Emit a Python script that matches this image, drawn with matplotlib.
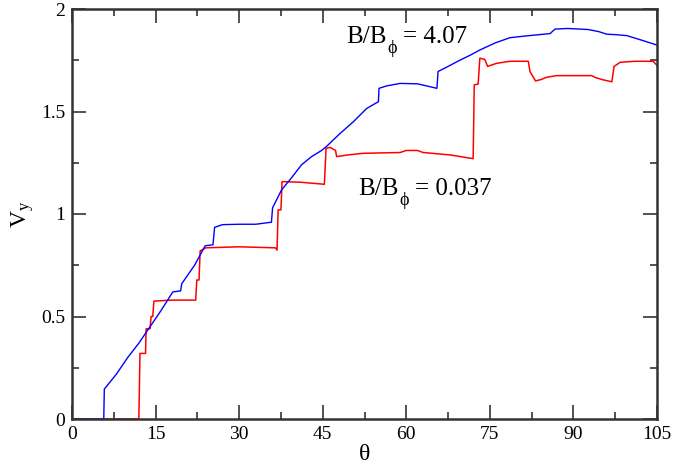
import numpy as np
import matplotlib
matplotlib.use('Agg')
import matplotlib.pyplot as plt
from matplotlib.ticker import MultipleLocator
from matplotlib.transforms import offset_copy

# blue curve, B/Bphi = 4.07
theta_hi = [0, 5.7, 5.8, 8, 10, 12, 14, 16, 18.1, 19.5, 19.7, 22, 23.9, 25.3, 25.6, 27, 30, 33, 35.8,
            36.0, 37.6, 39.5, 41.2, 43, 44.8, 45.7, 48, 50.5, 52.9, 55.0, 55.1, 56.5, 58.9, 62, 65.5,
            65.7, 67.5, 69.6, 71.5, 73.2, 76, 78.6, 82, 85.8, 86.7, 89, 92.6, 94.5, 96, 97.5, 99.6, 102, 105]
vy_hi = [0, 0, 0.146, 0.22, 0.3, 0.37, 0.45, 0.53, 0.62, 0.625, 0.66, 0.75, 0.845, 0.85, 0.935, 0.948,
         0.95, 0.95, 0.96, 1.03, 1.117, 1.18, 1.24, 1.28, 1.31, 1.33, 1.39, 1.45, 1.515, 1.548, 1.613,
         1.625, 1.637, 1.635, 1.613, 1.695, 1.72, 1.75, 1.775, 1.80, 1.835, 1.86, 1.87, 1.88, 1.902,
         1.905, 1.90, 1.89, 1.877, 1.875, 1.87, 1.85, 1.824]

# red curve, B/Bphi = 0.037
theta_lo = [0, 12.0, 12.2, 13.2, 13.3, 14.0, 14.2, 14.5, 14.7, 18, 22.2, 22.4, 22.8, 23.0, 24, 30, 36.5,
            36.8, 37.0, 37.5, 37.7, 41, 45.3, 45.6, 46.3, 47.3, 47.5, 49.5, 52.2, 58.9, 60, 62, 63,
            67.9, 72.0, 72.2, 72.9, 73.2, 74.1, 74.6, 76.2, 78.6, 81.9, 82.2, 83.2, 84.3, 85.2, 87.0,
            93.3, 94, 95.4, 96.9, 97.3, 98.4, 101, 104.3, 105]
vy_lo = [0, 0, 0.32, 0.32, 0.44, 0.44, 0.5, 0.5, 0.575, 0.58, 0.58, 0.678, 0.678, 0.82, 0.835, 0.84,
         0.835, 0.824, 1.02, 1.02, 1.158, 1.155, 1.145, 1.32, 1.325, 1.31, 1.28, 1.288, 1.296, 1.30,
         1.31, 1.31, 1.30, 1.288, 1.27, 1.63, 1.634, 1.76, 1.754, 1.72, 1.735, 1.745, 1.745, 1.695,
         1.649, 1.657, 1.667, 1.675, 1.675, 1.665, 1.654, 1.645, 1.72, 1.74, 1.745, 1.745, 1.725]

label_hi = ('B/B', 'ϕ', '= 4.07')
label_lo = ('B/B', 'ϕ', '= 0.037')

plt.rcParams['font.family'] = ['Liberation Serif', 'DejaVu Serif']
plt.rcParams['mathtext.fontset'] = 'custom'
plt.rcParams['mathtext.rm'] = 'Liberation Serif'
plt.rcParams['mathtext.it'] = 'Liberation Serif:italic'

fig = plt.figure(figsize=(6.74, 4.66), dpi=100)
ax = fig.add_axes([72 / 674, 47 / 466, 585 / 674, 410 / 466])

ax.plot(theta_lo, vy_lo, color='#ff0000', lw=1.1)
ax.plot(theta_hi, vy_hi, color='#0000ff', lw=1.0)

ax.set_xlim(0, 105)
ax.set_ylim(0, 2)
ax.xaxis.set_major_locator(MultipleLocator(15))
ax.xaxis.set_minor_locator(MultipleLocator(7.5))
ax.yaxis.set_major_locator(MultipleLocator(0.5))
ax.yaxis.set_minor_locator(MultipleLocator(0.25))
ax.set_yticks([0, 0.5, 1, 1.5, 2])
ax.set_yticklabels(['0', '0.5', '1', '1.5', '2'])
ax.tick_params(which='both', direction='in', top=True, right=True, labelsize=14, colors='#333333',
               labelcolor='black', width=1.2)
ax.tick_params(which='major', length=10, pad=5)
ax.tick_params(which='minor', length=5)
for s in ax.spines.values():
    s.set_linewidth(1.8)
    s.set_color('#333333')

ax.set_xlabel('θ', fontsize=17, labelpad=1)
ax.set_ylabel('V$_{\\mathrm{y}}$', fontsize=17)
ax.yaxis.set_label_coords(-0.062, 0.5)

renderer = fig.canvas.get_renderer()


def ratio_label(x, y, parts):
    # main text, lowered subscript, then the rest
    t1 = ax.text(x, y, parts[0], fontsize=18)
    w1 = t1.get_window_extent(renderer).width
    t2 = ax.text(x, y, parts[1], fontsize=13,
                 transform=offset_copy(ax.transData, fig, x=w1 + 1, y=-10, units='dots'))
    w2 = t2.get_window_extent(renderer).width
    ax.text(x, y, parts[2], fontsize=18,
            transform=offset_copy(ax.transData, fig, x=w1 + w2 + 7, y=0, units='dots'))


ratio_label(49.2, 1.833, label_hi)
ratio_label(51.4, 1.093, label_lo)

fig.savefig('out.png', dpi=100)
